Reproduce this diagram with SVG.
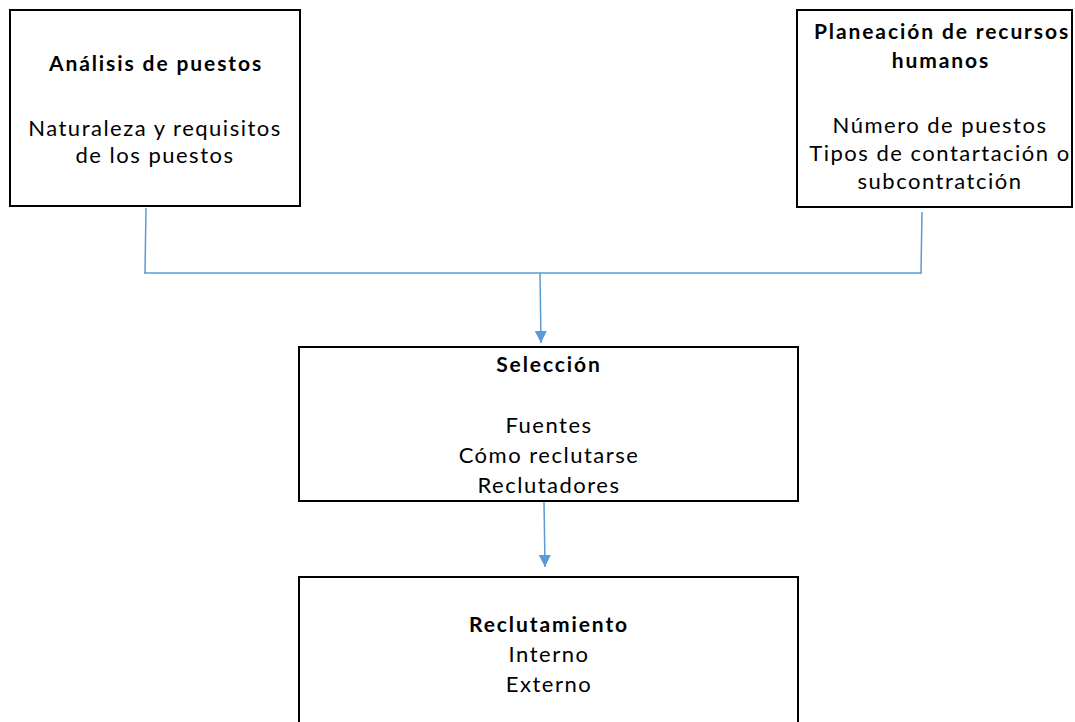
<svg xmlns="http://www.w3.org/2000/svg" width="1075" height="722" viewBox="0 0 1075 722">
<style>
.box{fill:#fff;stroke:#000;stroke-width:2}
.t{font-family:Lato,"Open Sans","Liberation Sans",sans-serif;font-size:22px;letter-spacing:1.5px;fill:#000;text-anchor:middle}
.b{font-weight:bold;font-size:21px;letter-spacing:1.9px}
.c{fill:none;stroke:#5b9bd5;stroke-width:1.5}
</style>
<defs>
<marker id="ah" viewBox="0 0 12 12" refX="12" refY="6" markerWidth="12" markerHeight="12" markerUnits="userSpaceOnUse" orient="auto">
<path d="M0,0 L12,6 L0,12 Z" fill="#5b9bd5"/>
</marker>
</defs>
<g id="analisis">
<rect class="box" x="10" y="10" width="290" height="196"/>
<text class="t b" x="156" y="71">Análisis de puestos</text>
<text class="t" x="155" y="136">Naturaleza y requisitos</text>
<text class="t" x="155" y="163">de los puestos</text>
</g>
<g id="planeacion">
<rect class="box" x="797" y="10" width="275" height="197"/>
<text class="t b" x="942" y="39">Planeación de recursos</text>
<text class="t b" x="941" y="68">humanos</text>
<text class="t" x="940" y="133">Número de puestos</text>
<text class="t" x="940" y="161">Tipos de contartación o</text>
<text class="t" x="940" y="189">subcontratción</text>
</g>
<g id="seleccion">
<rect class="box" x="299" y="347" width="499" height="154"/>
<text class="t b" x="549" y="372">Selección</text>
<text class="t" x="549" y="433">Fuentes</text>
<text class="t" x="549" y="463">Cómo reclutarse</text>
<text class="t" x="549" y="493">Reclutadores</text>
</g>
<g id="reclutamiento">
<rect class="box" x="299" y="577" width="499" height="160"/>
<text class="t b" x="549" y="632">Reclutamiento</text>
<text class="t" x="549" y="662">Interno</text>
<text class="t" x="549" y="692">Externo</text>
</g>
<g id="connectors">
<line class="c" x1="146" y1="208" x2="145" y2="273"/>
<line class="c" x1="922" y1="212" x2="921" y2="273"/>
<line class="c" x1="144" y1="273" x2="922" y2="273"/>
<line class="c" x1="540" y1="273" x2="541" y2="343" marker-end="url(#ah)"/>
<line class="c" x1="544" y1="502" x2="545" y2="567" marker-end="url(#ah)"/>
</g>
</svg>
